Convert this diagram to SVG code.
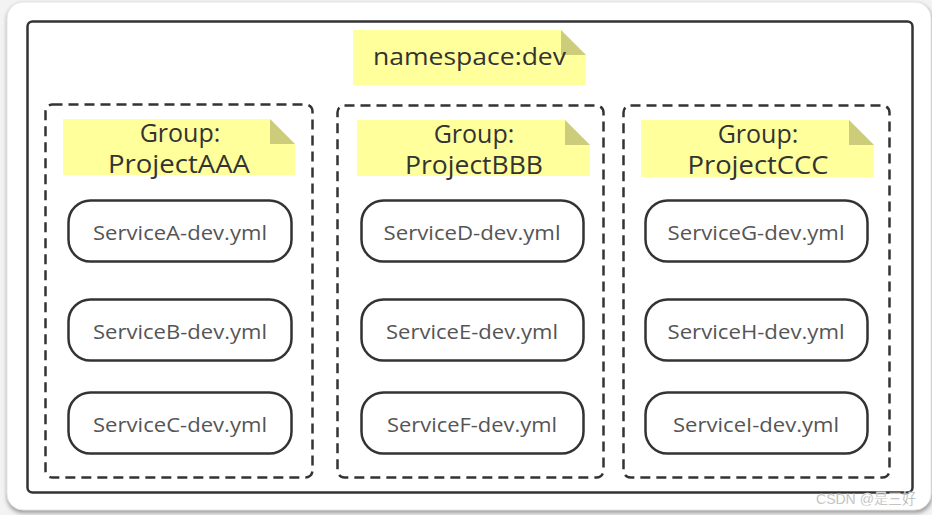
<svg xmlns="http://www.w3.org/2000/svg" width="932" height="515" viewBox="0 0 932 515">
<defs>
<filter id="sh" x="-5%" y="-5%" width="110%" height="115%"><feGaussianBlur stdDeviation="2"/></filter>
<style>
.frame{fill:#fff;stroke:#333;stroke-width:2.5}
.grp{fill:none;stroke:#333;stroke-width:2.5;stroke-dasharray:10 6}
.note{fill:#ffff9c}
.fold{fill:#cccc7a}
.pill{fill:#fff;stroke:#333;stroke-width:2.5}
.nt{font-family:"Open Sans","Noto Sans",sans-serif;font-size:25px;fill:#333;text-anchor:middle}
.ns{font-family:"Open Sans","Noto Sans",sans-serif;font-size:23px;fill:#333;text-anchor:middle}
.st{font-family:"Open Sans","Noto Sans",sans-serif;font-size:20px;fill:#555;text-anchor:middle}
.wm{font-family:"Liberation Sans","Noto Sans CJK SC",sans-serif;font-size:15px;fill:#aaa;stroke:#fff;stroke-width:0.3}
</style>
</defs>
<rect width="932" height="515" fill="#f3f3f3"/>
<rect x="7" y="4" width="925" height="509" rx="16" fill="#999" filter="url(#sh)"/>
<rect x="7" y="2" width="924" height="508" rx="16" fill="#fff" stroke="#e6e6e6" stroke-width="1"/>
<g id="namespace-dev">
<rect class="frame" x="27.5" y="21.5" width="885" height="471" rx="5"/>
<polygon class="note" points="353,30 561,30 586,55 586,85 353,85"/>
<polygon class="fold" points="561,30 561,55 586,55"/>
<text class="ns" x="469.5" y="65" textLength="193" lengthAdjust="spacingAndGlyphs">namespace:dev</text>
</g>
<g id="group-ProjectAAA">
<rect class="grp" x="45.5" y="104.5" width="267" height="373" rx="7"/>
<polygon class="note" points="63,119 270,119 295,144 295,175 63,175"/>
<polygon class="fold" points="270,119 270,144 295,144"/>
<text class="nt" x="180" y="142">Group:</text>
<text class="nt" x="179" y="173" textLength="142" lengthAdjust="spacingAndGlyphs">ProjectAAA</text>
</g>
<g id="group-ProjectBBB">
<rect class="grp" x="337.5" y="105.5" width="266" height="372" rx="7"/>
<polygon class="note" points="357,120 565,120 590,145 590,176 357,176"/>
<polygon class="fold" points="565,120 565,145 590,145"/>
<text class="nt" x="474" y="143">Group:</text>
<text class="nt" x="474" y="174" textLength="138" lengthAdjust="spacingAndGlyphs">ProjectBBB</text>
</g>
<g id="group-ProjectCCC">
<rect class="grp" x="623.5" y="105.5" width="266" height="372" rx="7"/>
<polygon class="note" points="641,120 849,120 874,145 874,177 641,177"/>
<polygon class="fold" points="849,120 849,145 874,145"/>
<text class="nt" x="758" y="143">Group:</text>
<text class="nt" x="758" y="174" textLength="141" lengthAdjust="spacingAndGlyphs">ProjectCCC</text>
</g>
<g id="ServiceA"><rect class="pill" x="68.5" y="200.5" width="223" height="61" rx="22"/><text class="st" x="180" y="240" textLength="174" lengthAdjust="spacingAndGlyphs">ServiceA-dev.yml</text></g>
<g id="ServiceB"><rect class="pill" x="68.5" y="299.5" width="223" height="61" rx="22"/><text class="st" x="180" y="339" textLength="174" lengthAdjust="spacingAndGlyphs">ServiceB-dev.yml</text></g>
<g id="ServiceC"><rect class="pill" x="68.5" y="392.5" width="223" height="61" rx="22"/><text class="st" x="180" y="432" textLength="174" lengthAdjust="spacingAndGlyphs">ServiceC-dev.yml</text></g>
<g id="ServiceD"><rect class="pill" x="361.5" y="200.5" width="222" height="61" rx="22"/><text class="st" x="472" y="240" textLength="177" lengthAdjust="spacingAndGlyphs">ServiceD-dev.yml</text></g>
<g id="ServiceE"><rect class="pill" x="361.5" y="299.5" width="222" height="61" rx="22"/><text class="st" x="472" y="339" textLength="172" lengthAdjust="spacingAndGlyphs">ServiceE-dev.yml</text></g>
<g id="ServiceF"><rect class="pill" x="361.5" y="392.5" width="222" height="61" rx="22"/><text class="st" x="472" y="432" textLength="170" lengthAdjust="spacingAndGlyphs">ServiceF-dev.yml</text></g>
<g id="ServiceG"><rect class="pill" x="645.5" y="200.5" width="222" height="61" rx="22"/><text class="st" x="756" y="240" textLength="177" lengthAdjust="spacingAndGlyphs">ServiceG-dev.yml</text></g>
<g id="ServiceH"><rect class="pill" x="645.5" y="299.5" width="222" height="61" rx="22"/><text class="st" x="756" y="339" textLength="177" lengthAdjust="spacingAndGlyphs">ServiceH-dev.yml</text></g>
<g id="ServiceI"><rect class="pill" x="645.5" y="392.5" width="222" height="61" rx="22"/><text class="st" x="756" y="432" textLength="166" lengthAdjust="spacingAndGlyphs">ServiceI-dev.yml</text></g>
<g id="connectors"></g>
<text class="wm" x="816" y="504" textLength="100" lengthAdjust="spacingAndGlyphs">CSDN @是三好</text>
</svg>
